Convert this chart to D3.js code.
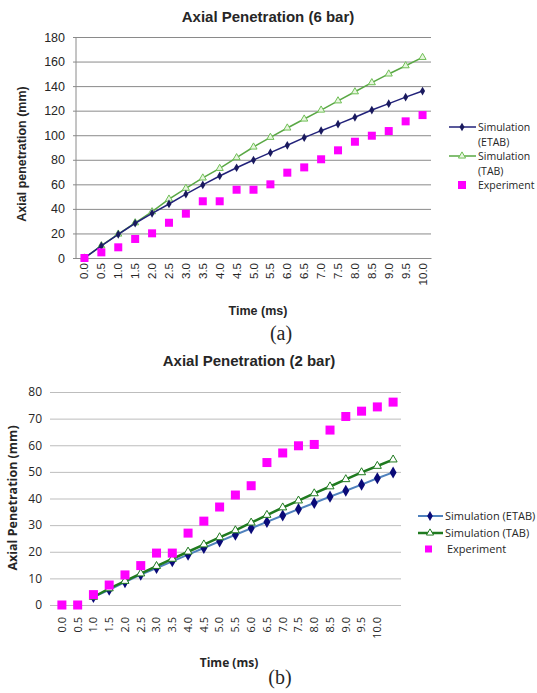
<!DOCTYPE html>
<html>
<head>
<meta charset="utf-8">
<script src="https://cdn.jsdelivr.net/npm/d3@7"></script>
<style>
  body { margin: 0; background: #fff; }
  text { fill: #262626; }
</style>
</head>
<body>
<svg id="fig" width="537" height="693"></svg>
<script>
// ---- data ----
const timeLabels = ["0.0","0.5","1.0","1.5","2.0","2.5","3.0","3.5","4.0","4.5","5.0",
                    "5.5","6.0","6.5","7.0","7.5","8.0","8.5","9.0","9.5","10.0"];
const seriesNames = ["Simulation (ETAB)", "Simulation (TAB)", "Experiment"];

// (a) 6 bar
const etab6 = [0, 9.8, 19.3, 28.3, 36.4, 44, 52, 59.5, 66.8, 73.5, 79.8, 85.8, 91.8, 98, 103.7, 109, 114.6, 120.5, 125.7, 131, 136];
const tab6  = [0, 10, 19.5, 28.7, 37.7, 48, 56.8, 65.2, 73, 81.7, 90.4, 98.3, 105.9, 113.2, 120.5, 128, 135.4, 142.8, 149.9, 156.6, 163.4];
const exp6  = [0, 4.6, 8.7, 15.5, 20.1, 28.7, 36.1, 46.2, 46.2, 55.6, 55.6, 60, 69.5, 73.8, 80.4, 87.7, 94.7, 99.6, 103.4, 111.3, 116.4];
const yTicks6 = [0, 20, 40, 60, 80, 100, 120, 140, 160, 180];

// (b) 2 bar -- one more point than labels, last category unlabeled
const timeLabels2 = timeLabels.concat([""]);
const etab2 = [null, null, 3, 5.7, 8.6, 11.4, 13.9, 16.4, 18.9, 21.4, 23.9, 26.4, 28.8, 31.2, 33.6, 36, 38.3, 40.7, 42.9, 45.2, 47.6, 49.8];
const tab2  = [null, null, 3, 6.2, 9, 11.8, 14.6, 17.3, 20, 22.7, 25.4, 28, 30.9, 33.8, 36.6, 39.2, 41.9, 44.5, 47.2, 49.8, 52.2, 54.6];
const exp2  = [0, 0, 3.9, 7.5, 11.3, 14.8, 19.5, 19.5, 27, 31.5, 36.8, 41.3, 44.8, 53.5, 57.1, 59.8, 60.3, 65.7, 70.8, 72.8, 74.4, 76.2];
const yTicks2 = [0, 10, 20, 30, 40, 50, 60, 70, 80];

const svg = d3.select("#fig");
const MAGENTA = "#ff00ff";
const arial = "'Liberation Sans', Arial, sans-serif";
const calib = "'Open Sans', 'Noto Sans', sans-serif";

// ================= (a) =================
{
  const left = 76, right = 431, top = 37, bottom = 258;
  const idx = d3.range(timeLabels.length);
  const x = d3.scaleBand().domain(idx).range([left, right]);
  const cx = i => x(i) + x.bandwidth() / 2;
  const y = d3.scaleLinear().domain([0, 180]).range([bottom, top]);

  const ga = svg.append("g")
    .attr("transform", `translate(${left - 3},0)`)
    .call(d3.axisLeft(y).tickValues(yTicks6).tickSize(-(right - left + 3)).tickPadding(8));
  ga.select(".domain").remove();
  ga.selectAll("line").attr("stroke", "#8a8a8a");
  ga.selectAll("text").style("font-family", arial).style("font-size", "12.5px").attr("fill", "#333");

  svg.append("line").attr("x1", left).attr("x2", left).attr("y1", top).attr("y2", bottom).attr("stroke", "#8a8a8a");

  const gx = svg.append("g")
    .attr("transform", `translate(0,${bottom})`)
    .call(d3.axisBottom(x).tickSize(0).tickFormat(i => timeLabels[i]));
  gx.select(".domain").attr("stroke", "#8a8a8a");
  gx.selectAll("text")
    .style("font-family", arial).style("font-size", "11.5px").attr("fill", "#333")
    .attr("text-anchor", "end")
    .attr("transform", "rotate(-90)")
    .attr("x", -5).attr("y", 0).attr("dy", "0.35em");

  const line = d3.line().defined(d => d != null).x((d, i) => cx(i)).y(d => y(d));

  // TAB (green, hollow triangles)
  svg.append("path").datum(tab6).attr("d", line).attr("fill", "none").attr("stroke", "#5aa845").attr("stroke-width", 1.5);
  svg.append("g").selectAll("path").data(tab6).join("path")
    .attr("d", d3.symbol(d3.symbolTriangle, 22)())
    .attr("transform", (d, i) => `translate(${cx(i)},${y(d)})`)
    .attr("fill", "#e8f5e0").attr("stroke", "#6fbf55").attr("stroke-width", 1);

  // ETAB (navy, diamonds)
  svg.append("path").datum(etab6).attr("d", line).attr("fill", "none").attr("stroke", "#22227a").attr("stroke-width", 1.5);
  svg.append("g").selectAll("path").data(etab6).join("path")
    .attr("d", d3.symbol(d3.symbolDiamond, 22)())
    .attr("transform", (d, i) => `translate(${cx(i)},${y(d)})`)
    .attr("fill", "#1a1a5e");

  // Experiment
  svg.append("g").selectAll("rect").data(exp6).join("rect")
    .attr("x", (d, i) => cx(i) - 4).attr("y", d => y(d) - 4)
    .attr("width", 8).attr("height", 8).attr("fill", MAGENTA);

  svg.append("text").attr("x", 268).attr("y", 22).attr("text-anchor", "middle")
    .style("font-family", arial).style("font-size", "15px").style("font-weight", "bold")
    .text("Axial Penetration (6 bar)");
  svg.append("text").attr("transform", `translate(26,154) rotate(-90)`).attr("text-anchor", "middle")
    .style("font-family", arial).style("font-size", "12.5px").style("font-weight", "bold")
    .text("Axial penetration (mm)");
  svg.append("text").attr("x", 258).attr("y", 315).attr("text-anchor", "middle")
    .style("font-family", arial).style("font-size", "12.5px").style("font-weight", "bold")
    .text("Time (ms)");

  // legend (wrapped labels)
  const lg = svg.append("g").style("font-family", calib).style("font-size", "10.5px");
  const rows = [127, 156, 185];
  lg.append("line").attr("x1", 449).attr("x2", 476).attr("y1", rows[0]).attr("y2", rows[0]).attr("stroke", "#22227a").attr("stroke-width", 1.5);
  lg.append("path").attr("d", d3.symbol(d3.symbolDiamond, 22)()).attr("transform", `translate(462,${rows[0]})`).attr("fill", "#1a1a5e");
  lg.append("line").attr("x1", 449).attr("x2", 476).attr("y1", rows[1]).attr("y2", rows[1]).attr("stroke", "#5aa845").attr("stroke-width", 1.5);
  lg.append("path").attr("d", d3.symbol(d3.symbolTriangle, 22)()).attr("transform", `translate(462,${rows[1]})`).attr("fill", "#e8f5e0").attr("stroke", "#6fbf55");
  lg.append("rect").attr("x", 458).attr("y", rows[2] - 4).attr("width", 8).attr("height", 8).attr("fill", MAGENTA);
  seriesNames.forEach((name, k) => {
    const parts = name.split(" ");
    const t = lg.append("text").attr("x", 478).attr("y", rows[k] + 4).attr("fill", "#444");
    t.append("tspan").attr("x", 478).text(parts[0]);
    if (parts[1]) t.append("tspan").attr("x", 478).attr("dy", 15).text(parts[1]);
  });

  svg.append("text").attr("x", 281).attr("y", 340).attr("text-anchor", "middle")
    .style("font-family", "'Liberation Serif', 'Times New Roman', serif").style("font-size", "20px")
    .text("(a)");
}

// ================= (b) =================
{
  const left = 54, right = 401, top = 392, bottom = 605;
  const idx = d3.range(timeLabels2.length);
  const x = d3.scaleBand().domain(idx).range([left, right]);
  const cx = i => x(i) + x.bandwidth() / 2;
  const y = d3.scaleLinear().domain([0, 80]).range([bottom, top]);

  const ga = svg.append("g")
    .attr("transform", `translate(${left - 4},0)`)
    .call(d3.axisLeft(y).tickValues(yTicks2).tickSize(-(right - left + 4)).tickPadding(8));
  ga.select(".domain").remove();
  ga.selectAll("line").attr("stroke", "#bdbdbd");
  ga.selectAll("text").style("font-family", calib).style("font-size", "12px").attr("fill", "#444");

  const gx = svg.append("g")
    .attr("transform", `translate(0,${bottom})`)
    .call(d3.axisBottom(x).tickSize(0).tickFormat(i => timeLabels2[i]));
  gx.select(".domain").remove();
  gx.selectAll("text")
    .style("font-family", calib).style("font-size", "11px").attr("fill", "#444")
    .attr("text-anchor", "end")
    .attr("transform", "rotate(-90)")
    .attr("x", -12).attr("y", 0).attr("dy", "0.35em");

  const line = d3.line().defined(d => d != null).x((d, i) => cx(i)).y(d => y(d));

  svg.append("path").datum(etab2).attr("d", line).attr("fill", "none").attr("stroke", "#4f81bd").attr("stroke-width", 2);
  svg.append("g").selectAll("path").data(etab2.map((v, i) => [v, i]).filter(d => d[0] != null)).join("path")
    .attr("d", d3.symbol(d3.symbolDiamond, 42)())
    .attr("transform", d => `translate(${cx(d[1])},${y(d[0])})`)
    .attr("fill", "#0a0a78");

  svg.append("path").datum(tab2).attr("d", line).attr("fill", "none").attr("stroke", "#1f7a1f").attr("stroke-width", 2.5);
  svg.append("g").selectAll("path").data(tab2.map((v, i) => [v, i]).filter(d => d[0] != null)).join("path")
    .attr("d", d3.symbol(d3.symbolTriangle, 28)())
    .attr("transform", d => `translate(${cx(d[1])},${y(d[0])})`)
    .attr("fill", "#fff").attr("stroke", "#1f7a1f").attr("stroke-width", 1);

  svg.append("g").selectAll("rect").data(exp2).join("rect")
    .attr("x", (d, i) => cx(i) - 4.5).attr("y", d => y(d) - 4.5)
    .attr("width", 9).attr("height", 9).attr("fill", MAGENTA);

  svg.append("text").attr("x", 249).attr("y", 366).attr("text-anchor", "middle")
    .style("font-family", arial).style("font-size", "15px").style("font-weight", "bold")
    .text("Axial Penetration (2 bar)");
  svg.append("text").attr("transform", `translate(17,498) rotate(-90)`).attr("text-anchor", "middle")
    .style("font-family", calib).style("font-size", "12.5px").style("font-weight", "bold")
    .text("Axial Penetration (mm)");
  svg.append("text").attr("x", 229).attr("y", 667).attr("text-anchor", "middle")
    .style("font-family", calib).style("font-size", "12px").style("font-weight", "bold")
    .text("Time (ms)");

  const lg = svg.append("g").style("font-family", calib).style("font-size", "11px");
  const rows = [516, 533, 549];
  lg.append("line").attr("x1", 418).attr("x2", 443).attr("y1", rows[0]).attr("y2", rows[0]).attr("stroke", "#4f81bd").attr("stroke-width", 2);
  lg.append("path").attr("d", d3.symbol(d3.symbolDiamond, 28)()).attr("transform", `translate(430,${rows[0]})`).attr("fill", "#0a0a78");
  lg.append("line").attr("x1", 418).attr("x2", 443).attr("y1", rows[1]).attr("y2", rows[1]).attr("stroke", "#1f7a1f").attr("stroke-width", 2.5);
  lg.append("path").attr("d", d3.symbol(d3.symbolTriangle, 22)()).attr("transform", `translate(430,${rows[1]})`).attr("fill", "#fff").attr("stroke", "#1f7a1f");
  lg.append("rect").attr("x", 425).attr("y", rows[2] - 3.5).attr("width", 7).attr("height", 7).attr("fill", MAGENTA);
  seriesNames.forEach((name, k) => {
    lg.append("text").attr("x", k < 2 ? 445 : 447).attr("y", rows[k] + 4).attr("fill", "#444").text(name);
  });

  svg.append("text").attr("x", 280).attr("y", 684).attr("text-anchor", "middle")
    .style("font-family", "'Liberation Serif', 'Times New Roman', serif").style("font-size", "20px")
    .text("(b)");
}
</script>
</body>
</html>
